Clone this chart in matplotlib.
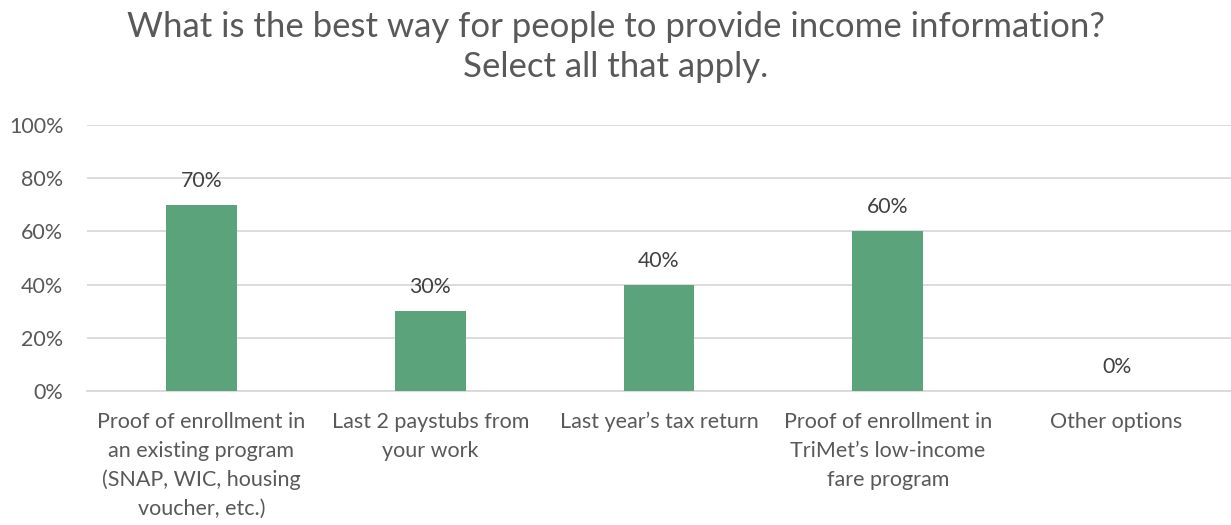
import numpy as np
import matplotlib.pyplot as plt

categories = [
    "Proof of enrollment in\nan existing program\n(SNAP, WIC, housing\nvoucher, etc.)",
    "Last 2 paystubs from\nyour work",
    "Last year\u2019s tax return",
    "Proof of enrollment in\nTriMet\u2019s low-income\nfare program",
    "Other options",
]
shares = [70, 30, 40, 60, 0]
yticks = [0, 20, 40, 60, 80, 100]

text_color = "#595959"
bar_color = "#5BA37A"
grid_color = "#D9D9D9"

plt.rcParams["font.family"] = ["Lato", "DejaVu Sans"]

fig = plt.figure(figsize=(12.31, 5.25), dpi=100)
ax = fig.add_axes([0.0707, 0.255, 0.9293, 0.507])

x = np.arange(len(categories))
bars = ax.bar(x, shares, width=0.31, color=bar_color, zorder=3)

# value labels above each bar
for rect, v in zip(bars, shares):
    ax.text(rect.get_x() + rect.get_width() / 2, v + 9, f"{v}%",
            ha="center", va="center", fontsize=15.3, color="#404040")

ax.set_xlim(-0.5, len(categories) - 0.5)
ax.set_ylim(0, 100)
ax.set_yticks(yticks)
ax.set_yticklabels([f"{t}%" for t in yticks])
ax.yaxis.grid(True, color=grid_color, linewidth=1.3, zorder=0)
ax.set_xticks(x)
ax.set_xticklabels(categories, linespacing=1.55, va="top")

ax.tick_params(axis="both", length=0, colors=text_color, labelsize=15.5)
ax.tick_params(axis="x", pad=15)
ax.tick_params(axis="y", pad=17)
for lbl in ax.get_yticklabels():
    lbl.set_horizontalalignment("right")
for side in ["top", "right", "left"]:
    ax.spines[side].set_visible(False)
ax.spines["bottom"].set_color(grid_color)
ax.spines["bottom"].set_linewidth(1.3)

fig.text(0.5, 0.91, "What is the best way for people to provide income information?\nSelect all that apply.",
         ha="center", va="center", fontsize=25, color=text_color, linespacing=1.3)

fig.savefig("out.png", dpi=100, facecolor="white")
